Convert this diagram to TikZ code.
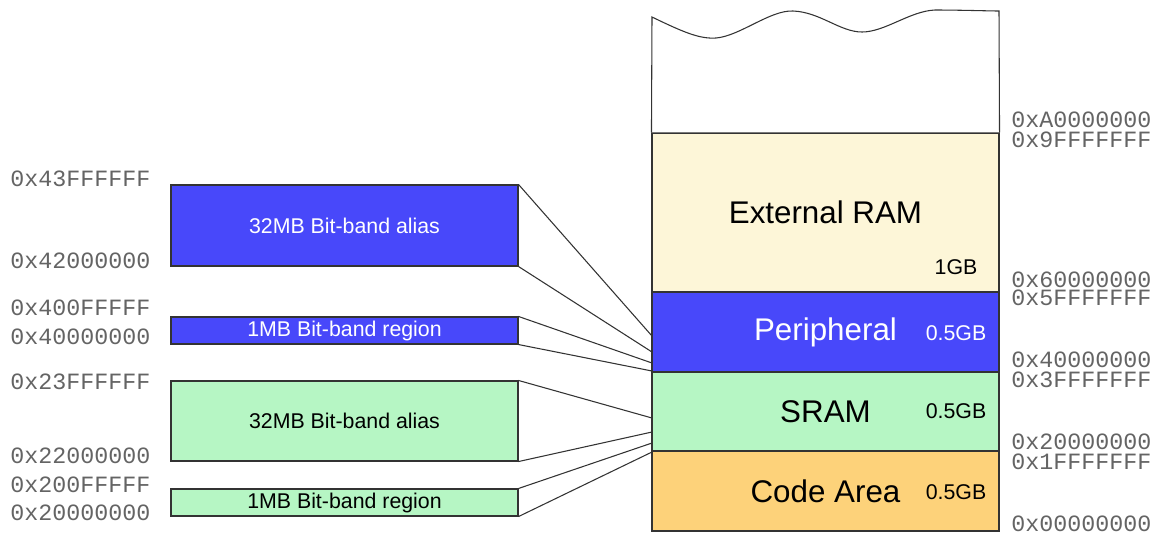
\documentclass[tikz,border=0pt]{standalone}
\usepackage{fontspec}
\setmainfont{Liberation Sans}
\newfontfamily\hexfont{Liberation Mono}
\usetikzlibrary{positioning}
\definecolor{bandblue}{RGB}{72,72,250}
\definecolor{ramyellow}{RGB}{253,246,216}
\definecolor{sramgreen}{RGB}{182,246,196}
\definecolor{codeorange}{RGB}{253,210,122}
\definecolor{addrgray}{RGB}{100,100,100}
\tikzset{
    block/.style={draw=black!80, line width=0.8pt, inner sep=0pt, minimum width=260.25pt, font=\fontsize{23.5}{26}\selectfont},
    bitband/.style={draw=black!80, line width=0.8pt, inner sep=0pt, minimum width=260.25pt, font=\fontsize{16}{18}\selectfont},
    size/.style={font=\fontsize{16}{18}\selectfont},
    addr/.style={font=\hexfont\fontsize{17.5}{20}\selectfont, text=addrgray, anchor=west, inner sep=0pt, text height=10pt, text depth=0pt},
    link/.style={draw=black!80, line width=0.8pt}
}

\begin{document}
\begin{tikzpicture}[x=0.75pt, y=-0.75pt]
    \useasboundingbox (0,0) rectangle (1161,537);
    % memory map
    \node[block, fill=ramyellow, minimum height=119.25pt] (ext) at (825.5,212.5) {External RAM};
    \node[block, fill=bandblue, text=white, minimum height=60pt] (periph) at (825.5,332) {Peripheral};
    \node[block, fill=sramgreen, minimum height=59.25pt] (sram) at (825.5,411.5) {SRAM};
    \node[block, fill=codeorange, minimum height=60pt] (code) at (825.5,491) {Code Area};
    \draw[link, fill=white] (ext.north west) -- (652,17)
        .. controls (685,33) and (700,39) .. (716,38)
        .. controls (740,36) and (770,10) .. (793,11)
        .. controls (820,12) and (840,32) .. (862,32)
        .. controls (885,32) and (910,11) .. (935,10)
        .. controls (960,10) and (990,11) .. (999,11) -- (ext.north east);
    \node[size] (extsize) at (956,267) {1GB};
    \node[size, text=white] (periphsize) at (956,333) {0.5GB};
    \node[size] (sramsize) at (956,411) {0.5GB};
    \node[size] (codesize) at (956,492) {0.5GB};

    % bit-band boxes
    \node[bitband, fill=bandblue, text=white, minimum height=60.75pt] (palias) at (344.5,225.5) {32MB Bit-band alias};
    \node[bitband, fill=bandblue, text=white, minimum height=20.25pt] (pregion) at (344.5,330.5) {1MB Bit-band region};
    \node[bitband, fill=sramgreen, minimum height=60pt] (salias) at (344.5,421) {32MB Bit-band alias};
    \node[bitband, fill=sramgreen, minimum height=20.25pt] (sregion) at (344.5,502.5) {1MB Bit-band region};

    \coordinate (p1) at (652,336);
    \coordinate (p2) at (652,352);
    \coordinate (p3) at (652,363);
    \coordinate (p4) at (652,371);
    \coordinate (s1) at (652,418);
    \coordinate (s2) at (652,432);
    \coordinate (s3) at (652,443);
    \coordinate (s4) at (652,452);
    \draw[link] (palias.north east) -- (p1);
    \draw[link] (palias.south east) -- (p2);
    \draw[link] (pregion.north east) -- (p3);
    \draw[link] (pregion.south east) -- (p4);
    \draw[link] (salias.north east) -- (s1);
    \draw[link] (salias.south east) -- (s2);
    \draw[link] (sregion.north east) -- (s3);
    \draw[link] (sregion.south east) -- (s4);

    % addresses
    \node[addr] (a43) at (10,180) {0x43FFFFFF};
    \node[addr] (a42) at (10,262) {0x42000000};
    \node[addr] (a40f) at (10,309) {0x400FFFFF};
    \node[addr] (a40) at (10,338) {0x40000000};
    \node[addr] (a23) at (10,383) {0x23FFFFFF};
    \node[addr] (a22) at (10,457) {0x22000000};
    \node[addr] (a20f) at (10,486) {0x200FFFFF};
    \node[addr] (a20) at (10,514) {0x20000000};
    \node[addr] (rA0) at (1011,121) {0xA0000000};
    \node[addr] (r9F) at (1011,141) {0x9FFFFFFF};
    \node[addr] (r60) at (1011,281) {0x60000000};
    \node[addr] (r5F) at (1011,299) {0x5FFFFFFF};
    \node[addr] (r40) at (1011,361) {0x40000000};
    \node[addr] (r3F) at (1011,381) {0x3FFFFFFF};
    \node[addr] (r20) at (1011,443) {0x20000000};
    \node[addr] (r1F) at (1011,463) {0x1FFFFFFF};
    \node[addr] (r00) at (1011,525) {0x00000000};
\end{tikzpicture}
\end{document}
